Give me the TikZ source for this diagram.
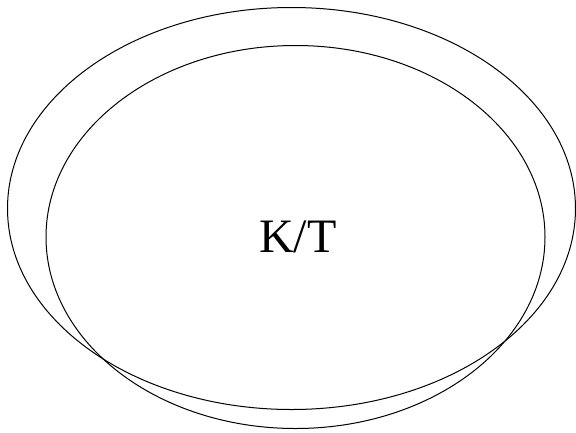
\documentclass[tikz,border=0pt]{standalone}
\usepackage{fontspec}
\setmainfont{Liberation Serif}
\usetikzlibrary{shapes.geometric}
\tikzset{
  ring/.style={draw, ellipse, inner sep=0pt, line width=1pt},
  lbl/.style={font=\fontsize{48}{56}\selectfont, inner sep=0pt},
}
\begin{document}
\begin{tikzpicture}[x=1pt, y=-1pt]
  \useasboundingbox (0,0) rectangle (576,432);
  \node[ring, minimum width=568pt, minimum height=402pt] (outer) at (291.5,208.5) {};
  \node[ring, minimum width=499pt, minimum height=383pt] (inner) at (295.5,237) {};
  \node[lbl] (kt) at (298,237) {K/T};
\end{tikzpicture}
\end{document}
